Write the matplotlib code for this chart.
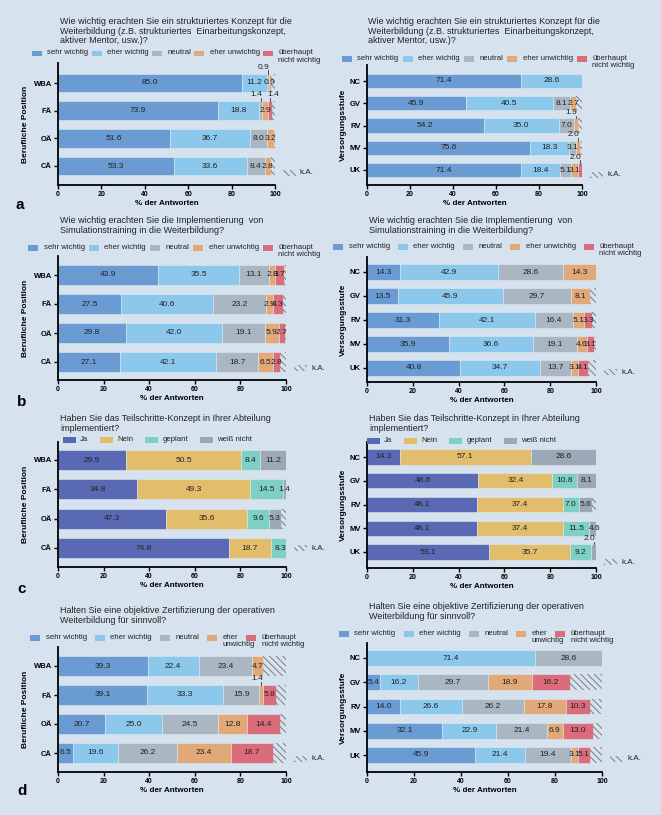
import matplotlib
matplotlib.use('Agg')
import matplotlib.pyplot as plt
from matplotlib.patches import Rectangle

plt.rcParams['font.family'] = ['Liberation Sans', 'DejaVu Sans']
plt.rcParams['hatch.linewidth'] = 0.7

# categories
pos_cats = ['WBA', 'FÄ', 'OÄ', 'CÄ']
stufe_cats = ['NC', 'GV', 'RV', 'MV', 'UK']
imp_labels = ['sehr wichtig', 'eher wichtig', 'neutral', 'eher unwichtig',
              'überhaupt\nnicht wichtig']
imp_labels_d = ['sehr wichtig', 'eher wichtig', 'neutral', 'eher\nunwichtig',
                'überhaupt\nnicht wichtig']
impl_labels = ['Ja', 'Nein', 'geplant', 'weiß nicht']

# values in % (one row per category); the rest up to 100 is "k.A."
a_pos = [[85.0, 11.2, 0.9, 0.9, 0.0],
         [73.9, 18.8, 1.4, 2.9, 1.4],
         [51.6, 36.7, 8.0, 3.2, 0.0],
         [53.3, 33.6, 8.4, 2.8, 0.0]]
a_stufe = [[71.4, 28.6, 0.0, 0.0, 0.0],
           [45.9, 40.5, 8.1, 2.7, 0.0],
           [54.2, 35.0, 7.0, 1.9, 0.0],
           [75.6, 18.3, 3.1, 2.0, 0.0],
           [71.4, 18.4, 5.1, 3.1, 2.0]]
b_pos = [[43.9, 35.5, 13.1, 2.8, 3.7],
         [27.5, 40.6, 23.2, 2.9, 4.3],
         [29.8, 42.0, 19.1, 5.9, 2.7],
         [27.1, 42.1, 18.7, 6.5, 2.8]]
b_stufe = [[14.3, 42.9, 28.6, 14.3, 0.0],
           [13.5, 45.9, 29.7, 8.1, 0.0],
           [31.3, 42.1, 16.4, 5.1, 3.3],
           [35.9, 36.6, 19.1, 4.6, 3.1],
           [40.8, 34.7, 13.7, 3.1, 4.1]]
c_pos = [[29.9, 50.5, 8.4, 11.2],
         [34.8, 49.3, 14.5, 1.4],
         [47.3, 35.6, 9.6, 5.3],
         [74.8, 18.7, 8.3, 0.0]]
c_stufe = [[14.3, 57.1, 0.0, 28.6],
           [48.6, 32.4, 10.8, 8.1],
           [48.1, 37.4, 7.0, 5.6],
           [48.1, 37.4, 11.5, 4.6],
           [53.1, 35.7, 9.2, 2.0]]
d_pos = [[39.3, 22.4, 23.4, 4.7, 0.0],
         [39.1, 33.3, 15.9, 1.4, 5.8],
         [20.7, 25.0, 24.5, 12.8, 14.4],
         [6.5, 19.6, 26.2, 23.4, 18.7]]
d_stufe = [[0.0, 71.4, 28.6, 0.0, 0.0],
           [5.4, 16.2, 29.7, 18.9, 16.2],
           [14.0, 26.6, 26.2, 17.8, 10.3],
           [32.1, 22.9, 21.4, 6.9, 13.0],
           [45.9, 21.4, 19.4, 3.1, 5.1]]

title_a = ('Wie wichtig erachten Sie ein strukturiertes Konzept für die\n'
           'Weiterbildung (z.B. strukturiertes  Einarbeitungskonzept,\n'
           'aktiver Mentor, usw.)?')
title_b = ('Wie wichtig erachten Sie die Implementierung  von\n'
           'Simulationstraining in die Weiterbildung?')
title_c = 'Haben Sie das Teilschritte-Konzept in Ihrer Abteilung\nimplementiert?'
title_d = ('Halten Sie eine objektive Zertifizierung der operativen\n'
           'Weiterbildung für sinnvoll?')

imp_colors = ['#6a9bd2', '#8bc8eb', '#aab7c3', '#e1a878', '#db6c7c']
impl_colors = ['#5a69b4', '#e2bd6b', '#7ecfc4', '#9ca8b5']
bg = '#d6e3ef'
hatch_col = '#7c7c7c'
txt_col = '#222222'

W, H = 661, 815
fig = plt.figure(figsize=(W / 100, H / 100), dpi=100, facecolor=bg)
renderer = fig.canvas.get_renderer()


def fx(x):
    return x / W


def fy(y):
    return 1 - y / H


def legend_row(labels, colors, x, y, colsp, hw=10, pad=5.5):
    # GraphPad-like key: small box, text next to it, first line aligned
    for lab, col in zip(labels, colors):
        fig.patches.append(Rectangle((fx(x), fy(y + 2.8)), hw / W, 5.6 / H,
                                     transform=fig.transFigure,
                                     facecolor=col, edgecolor='none'))
        first = lab.split('\n')[0]
        fig.text(fx(x + hw + pad), fy(y - 4.3), lab, ha='left', va='top',
                 fontsize=5.6, color=txt_col, linespacing=1.15)
        probe = fig.text(0, 0, first, fontsize=5.6)
        w = probe.get_window_extent(renderer).width
        probe.remove()
        x += hw + pad + w + colsp


# labels drawn inside the bar even though they are small
inside = {('a1', 0, 3), ('c1', 1, 3)}


def panel(key, data, cats, colors, labels, title, ylabel, box, bars,
          title_xy, leg, ka_dy, bar_h=0.68):
    x0, x1, ytop, ybot = box
    yfirst, ylast = bars
    n = len(cats)
    step = (ylast - yfirst) / (n - 1)
    ax = fig.add_axes([fx(x0), fy(ybot), (x1 - x0) / W, (ybot - ytop) / H])
    ax.set_facecolor('none')
    ax.set_xlim(0, 100)
    ax.set_ylim(n - 1 + (ybot - ylast) / step, -(yfirst - ytop) / step)
    for i, row in enumerate(data):
        left = 0.0
        n_above = 0
        for j, v in enumerate(row):
            if v > 0:
                ax.barh(i, v, left=left, height=bar_h, color=colors[j],
                        edgecolor='#dfe8f1', linewidth=0.4)
                cx = left + v / 2
                if v <= 2.0 and (key, i, j) not in inside:
                    top = i - bar_h / 2
                    ax.plot([cx, cx], [top, top - 0.12], color='#333333',
                            lw=0.6, clip_on=False)
                    if n_above == 0:
                        ax.text(cx + 0.8, top - 0.1, '%.1f' % v, ha='right',
                                va='bottom', fontsize=6, color=txt_col)
                    else:
                        ax.text(cx - 1.2, top - 0.1, '%.1f' % v, ha='left',
                                va='bottom', fontsize=6, color=txt_col)
                    n_above += 1
                else:
                    ax.text(cx, i, '%.1f' % v, ha='center', va='center',
                            fontsize=6, color=txt_col)
            left += v
        rest = 100 - left
        if rest > 0.3:
            ax.barh(i, rest, left=left, height=bar_h, facecolor='none',
                    edgecolor=hatch_col, linewidth=0, hatch='\\\\\\\\\\')
    for s in ['top', 'right']:
        ax.spines[s].set_visible(False)
    for s in ['left', 'bottom']:
        ax.spines[s].set_linewidth(1.3)
    ax.set_xticks([0, 20, 40, 60, 80, 100])
    ax.set_yticks(range(n))
    ax.set_yticklabels(cats, fontweight='bold', fontsize=5.5)
    ax.tick_params(axis='x', labelsize=5, width=1, length=3, pad=1.5)
    ax.tick_params(axis='y', width=1, length=3, pad=1.5)
    for t in ax.get_xticklabels():
        t.set_fontweight('bold')
    ax.set_xlabel('% der Antworten', fontweight='bold', fontsize=5.8,
                  labelpad=1.5)
    yl_x = 26 if x0 < 200 else 343
    fig.text(fx(yl_x), fy((ytop + ybot) / 2), ylabel, rotation=90,
             ha='center', va='center', fontweight='bold', fontsize=6)
    fig.text(fx(title_xy[0]), fy(title_xy[1]), title, ha='left', va='top',
             fontsize=6.5, linespacing=1.1, color=txt_col)
    legend_row(labels, colors, *leg)
    # k.A. key
    ky = ylast + ka_dy
    fig.patches.append(Rectangle((fx(x1 + 8), fy(ky + 3)), 13 / W, 6 / H,
                                 transform=fig.transFigure, facecolor='none',
                                 edgecolor=hatch_col, linewidth=0,
                                 hatch='\\\\\\\\\\'))
    fig.text(fx(x1 + 25), fy(ky), 'k.A.', ha='left', va='center',
             fontsize=5.8, color=txt_col)
    return ax


panel('a1', a_pos, pos_cats, imp_colors, imp_labels, title_a,
      'Berufliche Position', (58, 275, 63, 185), (83, 166),
      (60, 17), (32, 53.5, 3), 7)
panel('a2', a_stufe, stufe_cats, imp_colors, imp_labels, title_a,
      'Versorgungsstufe', (367, 582, 65, 185), (81, 170),
      (368, 17), (342, 59, 4), 5, bar_h=0.64)
panel('b1', b_pos, pos_cats, imp_colors, imp_labels, title_b,
      'Berufliche Position', (58, 286, 256, 380), (275, 362),
      (60, 216), (28, 248, 4), 6)
panel('b2', b_stufe, stufe_cats, imp_colors, imp_labels, title_b,
      'Versorgungsstufe', (367, 596, 257, 382), (272, 368),
      (369, 216), (333, 247, 8), 4, bar_h=0.64)
panel('c1', c_pos, pos_cats, impl_colors, impl_labels, title_c,
      'Berufliche Position', (58, 286, 442, 567), (460, 548),
      (60, 414), (63, 440, 12, 13, 4), 0)
panel('c2', c_stufe, stufe_cats, impl_colors, impl_labels, title_c,
      'Versorgungsstufe', (367, 596, 442, 568), (457, 552),
      (369, 414), (367, 441, 12, 13, 4), 10, bar_h=0.64)
panel('d1', d_pos, pos_cats, imp_colors, imp_labels_d, title_d,
      'Berufliche Position', (58, 286, 647, 772), (666, 753),
      (60, 606), (30, 638, 8), 6)
panel('d2', d_stufe, stufe_cats, imp_colors, imp_labels_d, title_d,
      'Versorgungsstufe', (367, 602, 643, 772), (658, 755),
      (369, 602), (339, 634, 8), 4, bar_h=0.64)

for letter, x, y in [('a', 20, 205), ('b', 22, 402), ('c', 22, 589),
                     ('d', 22, 791)]:
    fig.text(fx(x), fy(y), letter, ha='center', va='center',
             fontweight='bold', fontsize=11)

fig.savefig('out.png', dpi=100, facecolor=bg)
